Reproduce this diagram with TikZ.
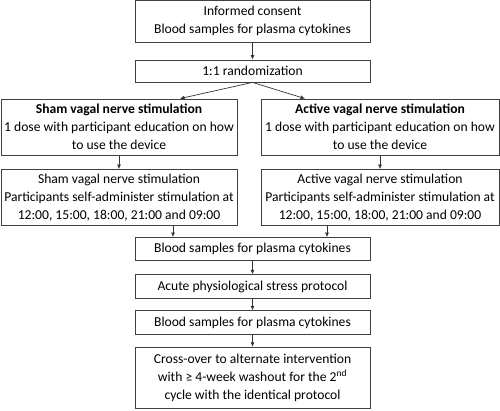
\documentclass[tikz,border=0pt]{standalone}
\usepackage{fontspec}
\setmainfont{Carlito}
\usetikzlibrary{arrows.meta}
\begin{document}
\begin{tikzpicture}[x=1pt,y=1pt,
  box/.style={draw=black!75,line width=0.8pt,align=center,inner sep=0pt,font=\fontsize{13.6}{18}\selectfont},
  arr/.style={draw=black!80,line width=0.7pt,-{Latex[length=4.5pt,width=4pt]}}]
\useasboundingbox (0,0) rectangle (500,-410);
\node[box,minimum width=235pt,minimum height=42pt] (b1) at (252.5,-21.3) {Informed consent\\Blood samples for plasma cytokines};
\node[box,minimum width=235pt,minimum height=22pt] (b2) at (252.5,-71) {1:1 randomization};
\node[box,minimum width=236pt,minimum height=56pt] (l3) at (119,-127) {\textbf{Sham vagal nerve stimulation}\\1 dose with participant education on how\\to use the device};
\node[box,minimum width=238pt,minimum height=56pt] (r3) at (380,-127) {\textbf{Active vagal nerve stimulation}\\1 dose with participant education on how\\to use the device};
\node[box,minimum width=236pt,minimum height=56pt] (l4) at (119,-197.5) {Sham vagal nerve stimulation\\Participants self-administer stimulation at\\12:00, 15:00, 18:00, 21:00 and 09:00};
\node[box,minimum width=238pt,minimum height=56pt] (r4) at (380,-197.5) {Active vagal nerve stimulation\\Participants self-administer stimulation at\\12:00, 15:00, 18:00, 21:00 and 09:00};
\node[box,minimum width=235pt,minimum height=23pt] (b5) at (252.5,-249) {Blood samples for plasma cytokines};
\node[box,minimum width=235pt,minimum height=24pt] (b6) at (252.5,-286.7) {Acute physiological stress protocol};
\node[box,minimum width=235pt,minimum height=24pt] (b7) at (252.5,-322.7) {Blood samples for plasma cytokines};
\node[box,minimum width=235pt,minimum height=61pt] (b8) at (252.5,-377.7) {Cross-over to alternate intervention\\with ≥ 4-week washout for the 2\textsuperscript{nd}\\cycle with the identical protocol};
\draw[arr] (b1) -- (b2);
\draw[arr] (b2.south) -- ([xshift=61pt]l3.north);
\draw[arr] (b2.south) -- ([xshift=-75pt]r3.north);
\draw[arr] (l3) -- (l4);
\draw[arr] (r3) -- (r4);
\draw[arr] ([xshift=54pt]l4.south) -- ([xshift=54pt]l4.south |- b5.north);
\draw[arr] ([xshift=-53pt]r4.south) -- ([xshift=-53pt]r4.south |- b5.north);
\draw[arr] (b5) -- (b6);
\draw[arr] (b6) -- (b7);
\draw[arr] (b7) -- (b8);
\end{tikzpicture}
\end{document}
